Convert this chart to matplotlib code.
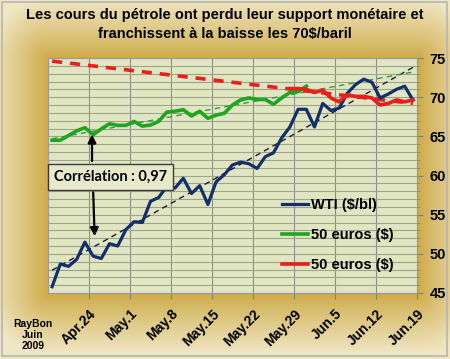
import matplotlib
matplotlib.use('Agg')
import matplotlib.pyplot as plt
import matplotlib.ticker as ticker
from matplotlib.patches import Rectangle
import numpy as np

plt.rcParams['font.family'] = ['Liberation Sans', 'DejaVu Sans']

# ── Data ───────────────────────────────────────────────────────────────
week_labels = ['Apr.24', 'May.1', 'May.8', 'May.15', 'May.22',
               'May.29', 'Jun.5', 'Jun.12', 'Jun.19']

# WTI ($/bl), one value per trading day
wti = [45.8, 48.7, 48.4, 49.3, 51.5, 49.7, 49.4, 51.3, 51.0, 53.1,
       54.1, 54.0, 56.7, 57.2, 58.6, 58.4, 59.65, 57.7, 58.7, 56.3,
       59.2, 60.1, 61.35, 61.7, 61.5, 60.9, 62.4, 62.9, 64.8, 66.2,
       68.45, 68.45, 66.2, 69.2, 68.3, 68.6, 70.5, 71.6, 72.3, 71.9,
       69.9, 70.4, 71.0, 71.4, 69.65]

# 50 euros in dollars (green part, first days)
eur_green = [64.5, 64.5, 65.1, 65.7, 66.1, 65.2, 65.95, 66.6, 66.4, 66.4,
             66.9, 66.3, 66.45, 66.9, 68.1, 68.2, 68.4, 67.6, 68.2, 67.3,
             67.7, 67.95, 69.0, 69.65, 69.9, 69.7, 69.7, 69.1, 69.9, 70.6,
             70.7, 71.4]

# 50 euros in dollars (red part, last days)
eur_red = [71.1, 71.1, 71.0, 70.6, 70.9, 69.9, 69.4, 70.3, 70.1, 70.1,
           69.9, 69.0, 69.2, 69.65, 69.4, 69.65]

# descending "support" line, start and end values
support = [74.6, 69.2]

correlation = '0,97'

# ── Colours ────────────────────────────────────────────────────────────
WTI_COLOR = '#132F6B'
GREEN = '#1FA51F'
RED = '#EE1C1C'
PLOT_BG = '#E0E6C2'
GRID = '#9FA58A'

W, H = 450, 359
fig = plt.figure(figsize=(W / 100, H / 100), dpi=100)

# background: gold shadow around the plot area, pale towards the border
px0, px1, py0, py1 = 48, 417, 58, 293
yy, xx = np.mgrid[0:H, 0:W]
dx = np.maximum(np.maximum(px0 - xx, xx - px1), 0)
dy = np.maximum(np.maximum(py0 - yy, yy - py1), 0)
d = np.sqrt(dx ** 2 + dy ** 2)
t = np.clip(d / 60.0, 0, 1) ** 0.9
dark = np.array([205, 170, 70]) / 255
pale = np.array([240, 230, 195]) / 255
img = dark[None, None, :] * (1 - t[..., None]) + pale[None, None, :] * t[..., None]
bg = fig.add_axes([0, 0, 1, 1], zorder=-10)
bg.imshow(img, aspect='auto', extent=(0, 1, 0, 1), origin='upper')
bg.set_axis_off()
fig.patches.append(Rectangle((0.004, 0.008), 0.99, 0.986, transform=fig.transFigure,
                             fill=False, edgecolor='#B5B5B5', linewidth=1.2))

ax = fig.add_axes([px0 / W, 1 - py1 / H, (px1 - px0) / W, (py1 - py0) / H])
ax.set_facecolor(PLOT_BG)

n = len(wti)
x = np.arange(n)
xg = np.arange(len(eur_green))
xr = np.arange(n - len(eur_red), n)

# trend lines (least squares), extended over the whole period
kw, bw = np.polyfit(x, wti, 1)
kg, bg_ = np.polyfit(xg, eur_green, 1)
xs = np.array([0, n - 1])
ax.plot(xs, kw * xs + bw, '--', color='#1A1A3A', linewidth=1.0, dashes=(4, 3), zorder=3)
ax.plot(xs, kg * xs + bg_, '--', color='#2E9E4A', linewidth=1.0, dashes=(4, 3), zorder=3)
ax.plot(xs, support, color=RED, linewidth=2.6, dashes=(2.8, 2.2), zorder=3)

ax.plot(x, wti, color=WTI_COLOR, linewidth=2.3, label='WTI ($/bl)', zorder=4)
ax.plot(xg, eur_green, color=GREEN, linewidth=2.6, label='50 euros ($)', zorder=4)
ax.plot(xr, eur_red, color=RED, linewidth=2.6, label='50 euros ($)', zorder=5)

ax.set_xlim(-0.5, n - 0.5)
ax.set_ylim(45, 75)
ax.xaxis.set_major_locator(ticker.FixedLocator(np.arange(4.5, n, 5)))
ax.set_xticklabels(week_labels, rotation=45, ha='right', va='top',
                   rotation_mode='anchor', fontsize=10, fontweight='bold')
ax.tick_params(axis='x', length=4, color='#808080', pad=6)
ax.yaxis.tick_right()
ax.yaxis.set_major_locator(ticker.MultipleLocator(5))
ax.yaxis.set_minor_locator(ticker.MultipleLocator(1))
ax.tick_params(axis='y', which='major', length=4, color='#808080', labelsize=10.5, pad=5)
ax.tick_params(axis='y', which='minor', length=2, color='#808080')
for lab in ax.get_yticklabels():
    lab.set_fontweight('bold')
ax.grid(axis='y', which='both', color=GRID, linewidth=0.8, zorder=0)
ax.grid(axis='x', which='major', color='#8E8E84', linewidth=0.8, zorder=0)
ax.set_axisbelow(True)
for s in ax.spines.values():
    s.set_color('#9A9A9A')
    s.set_linewidth(0.8)

# correlation box and arrows
ax.text(7.1, 59.8, f'Corrélation : {correlation}', ha='center', va='center',
        fontsize=10.5, fontweight='bold', family=['Lato', 'DejaVu Sans'], zorder=6,
        bbox=dict(boxstyle='square,pad=0.4', facecolor='#E6E9CC', edgecolor='#3A3A3A',
                  linewidth=1.0))
ax.annotate('', xy=(4.87, 65.6), xytext=(4.87, 61.5), zorder=6,
            arrowprops=dict(arrowstyle='-|>', color='black', lw=1.6, mutation_scale=12))
ax.annotate('', xy=(5.2, 51.9), xytext=(5.0, 58.2), zorder=6,
            arrowprops=dict(arrowstyle='-|>', color='black', lw=1.6, mutation_scale=12))

leg = ax.legend(loc='upper left', bbox_to_anchor=(0.634, 0.405), frameon=False,
                fontsize=10.5, handlelength=1.8, handletextpad=0.2,
                labelspacing=1.1, borderaxespad=0, borderpad=0)
for txt in leg.get_texts():
    txt.set_fontweight('bold')

fig.text(0.5, 1 - 24.5 / H, 'Les cours du pétrole ont perdu leur support monétaire et\n'
         'franchissent à la baisse les 70$/baril', ha='center', va='center',
         fontsize=10.5, fontweight='bold', linespacing=1.45)
fig.text(33 / W, 1 - 335 / H, 'RayBon\nJuin\n2009', ha='center', va='center',
         fontsize=7.5, fontweight='bold', linespacing=1.15)

fig.savefig('out.png', dpi=100)
